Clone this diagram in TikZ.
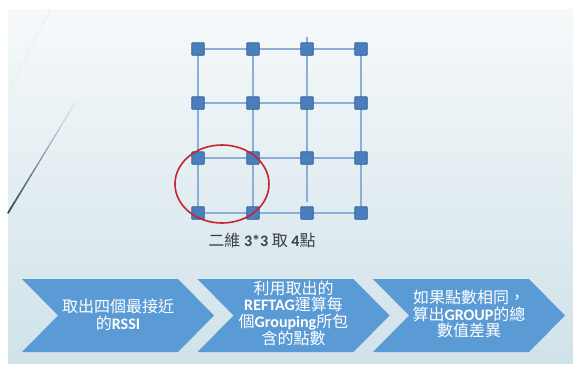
\documentclass[tikz,border=0pt]{standalone}
\usepackage{fontspec}
\setmainfont{Carlito}
\newfontfamily\cjk{Noto Sans CJK TC}
\newfontfamily\latf{Carlito}
\newcommand\lat[1]{{\latf\bfseries #1}}
\usetikzlibrary{shapes.geometric,calc}
\definecolor{bgtop}{HTML}{F6F9FA}
\definecolor{bgbot}{HTML}{D0E2E9}
\definecolor{gridfill}{HTML}{4A7EBD}
\definecolor{griddraw}{HTML}{2F5E98}
\definecolor{gridline}{HTML}{8AAFD9}
\definecolor{ringred}{HTML}{C4262E}
\definecolor{chev}{HTML}{5B9BD5}
\definecolor{captext}{HTML}{404040}
\definecolor{decodark}{HTML}{2B4863}
\definecolor{decolight}{HTML}{D8DEE2}
\pgfdeclarelayer{bg}
\pgfdeclarelayer{back}
\pgfsetlayers{bg,back,main}
\tikzset{
  gridpt/.style={rectangle, fill=gridfill, draw=griddraw, line width=0.8pt, minimum size=12.5pt, inner sep=0pt, rounded corners=0.8pt},
  gridln/.style={draw=gridline, line width=1.4pt},
  ringmark/.style={ellipse, draw=ringred, line width=1.6pt, minimum width=94pt, minimum height=78pt, inner sep=0pt},
  chevshape/.style={fill=chev},
  chevtext/.style={text=white, align=center, font=\cjk\fontsize{16}{16.6}\selectfont, inner sep=0pt},
  captxt/.style={text=captext, font=\cjk\fontsize{16}{18}\selectfont, inner sep=0pt}
}
\begin{document}
\begin{tikzpicture}[x=1pt,y=-1pt]
\useasboundingbox (0,0) rectangle (573,365);
\begin{pgfonlayer}{bg}
\fill[white] (0,0) rectangle (573,365);
\shade[top color=bgtop, bottom color=bgbot] (8,9) rectangle (573,363);
% decorative curves
\foreach \i in {0,...,19}{
  \pgfmathsetmacro\ta{\i/20}
  \pgfmathsetmacro\tb{(\i+1)/20}
  \pgfmathsetmacro\pc{100*\i/19}
  \draw[color=decolight!85!gray!40, line width=0.7pt, line cap=round] ($(50,10)!\ta!(8,93)$) -- ($(50,10)!\tb!(8,93)$);
  \draw[color=decodark!\pc!decolight, line width={0.7pt+1.0pt*\i/19}, line cap=round] ($(75,103)!\ta!(8,213)$) -- ($(75,103)!\tb!(8,213)$);
}
\end{pgfonlayer}
% grid points
\foreach \c/\x in {1/198,2/253,3/307,4/361}{
  \foreach \r/\y in {1/49,2/103,3/158,4/213}{
    \node[gridpt] (n\c\r) at (\x,\y) {};
  }
}
\coordinate (c3top) at (307,37);
\coordinate (c3bot) at (307,202);
\begin{pgfonlayer}{back}
\foreach \r in {1,2,3,4}{
  \draw[gridln] (n1\r.center) -- (n2\r.center) -- (n3\r.center) -- (n4\r.center);
}
\foreach \c in {1,2,4}{
  \draw[gridln] (n\c1.center) -- (n\c2.center) -- (n\c3.center) -- (n\c4.center);
}
\draw[gridln] (c3top) -- (n31.center) -- (n32.center) -- (n33.center) -- (c3bot);
\end{pgfonlayer}
% red ring
\node[ringmark] (ring) at (222,184) {};
% caption
\node[captxt] (cap) at (262,240) {二維 \lat{3*3} 取 \lat{4}點};
% chevrons
\foreach \L/\nm in {22/c1,197.5/c2,373/c3}{
  \fill[chevshape] (\L,279) -- (\L+156,279) -- (\L+192,315.5) -- (\L+156,352) -- (\L,352) -- (\L+36,315.5) -- cycle;
  \coordinate (\nm) at (\L+96,315);
}
\node[chevtext] (t1) at (c1) {取出四個最接近\\的\lat{RSSI}};
\node[chevtext] (t2) at ($(c2)+(0,-2)$) {利用取出的\\\lat{REFTAG}運算每\\個\lat{Grouping}所包\\含的點數};
\node[chevtext] (t3) at ($(c3)+(0,-1)$) {如果點數相同，\\算出\lat{GROUP}的總\\數值差異};
\end{tikzpicture}
\end{document}
